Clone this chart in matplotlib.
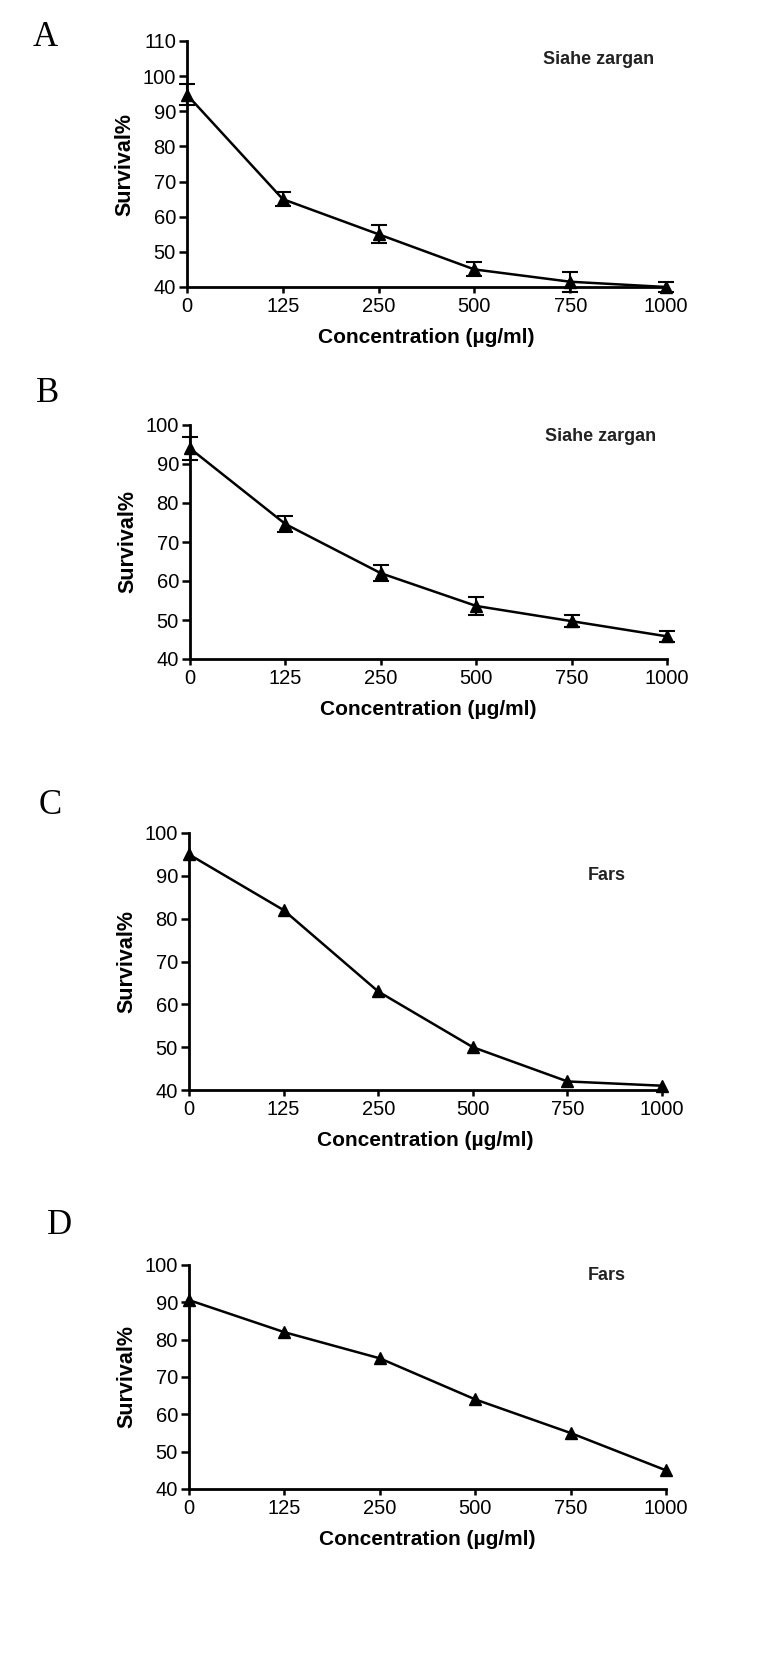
import numpy as np
import matplotlib
matplotlib.use('Agg')
import matplotlib.pyplot as plt

plt.rcParams['font.family'] = ['Liberation Sans', 'DejaVu Sans']

# data
conc_labels = ['0', '125', '250', '500', '750', '1000']

surv_a = [94.7, 65, 55, 45, 41.5, 40]
err_a = [3, 2, 2.5, 2, 2.8, 1.5]

surv_b = [94, 74.6, 62, 53.6, 49.7, 45.8]
err_b = [3, 2, 2, 2.3, 1.6, 1.5]

surv_c = [95, 82, 63, 50, 42, 41]

surv_d = [90.6, 82, 75, 64, 55, 45]

W, H = 771, 1654
fig = plt.figure(figsize=(W / 100, H / 100), dpi=100)


def add_ax(left, right, top, bottom):
    # pixel box -> figure fraction
    return fig.add_axes([left / W, (H - bottom) / H, (right - left) / W, (bottom - top) / H])


def style_panel(ax, ymax, letter, letter_xy, note, note_xy):
    x = np.arange(len(conc_labels))
    ax.set_xlim(0, len(conc_labels) - 1)
    ax.set_ylim(40, ymax)
    ax.set_xticks(x)
    ax.set_xticklabels(conc_labels)
    ax.set_yticks(np.arange(40, ymax + 1, 10))
    for s in ['top', 'right']:
        ax.spines[s].set_visible(False)
    for s in ['left', 'bottom']:
        ax.spines[s].set_linewidth(2.0)
    ax.tick_params(axis='y', direction='out', length=6, width=1.8, labelsize=14.5, pad=2)
    ax.tick_params(axis='x', direction='out', length=4, width=1.8, labelsize=14.5, pad=3)
    ax.set_ylabel('Survival%', fontsize=15.5, fontweight='bold', labelpad=5)
    ax.set_xlabel('Concentration (\u00b5g/ml)', fontsize=15, fontweight='bold', labelpad=9)
    ax.text(note_xy[0], note_xy[1], note, transform=ax.transAxes, fontsize=13,
            fontweight='bold', ha='center', va='center', color='#222222')
    fig.text(letter_xy[0] / W, 1 - letter_xy[1] / H, letter, fontsize=25,
             family='Liberation Serif', ha='center', va='center')


x = np.arange(len(conc_labels))

# A
ax = add_ax(187, 666, 41, 287)
ax.errorbar(x, surv_a, yerr=err_a, color='black', lw=1.8, marker='^', ms=9,
            capsize=6, elinewidth=1.5, capthick=1.5, clip_on=False, zorder=3)
style_panel(ax, 110, 'A', (45, 38), 'Siahe zargan', (0.86, 0.923))

# B
ax = add_ax(190, 667, 425, 659)
ax.errorbar(x, surv_b, yerr=err_b, color='black', lw=1.8, marker='^', ms=9,
            capsize=6, elinewidth=1.5, capthick=1.5, clip_on=False, zorder=3)
style_panel(ax, 100, 'B', (48, 393), 'Siahe zargan', (0.86, 0.949))

# C
ax = add_ax(189, 662, 833, 1090)
ax.plot(x, surv_c, color='black', lw=1.8, marker='^', ms=9, clip_on=False, zorder=3)
style_panel(ax, 100, 'C', (50, 805), 'Fars', (0.884, 0.833))

# D
ax = add_ax(189, 666, 1265, 1489)
ax.plot(x, surv_d, color='black', lw=1.8, marker='^', ms=9, clip_on=False, zorder=3)
style_panel(ax, 100, 'D', (60, 1225), 'Fars', (0.876, 0.955))

fig.savefig('out.png', dpi=100)
